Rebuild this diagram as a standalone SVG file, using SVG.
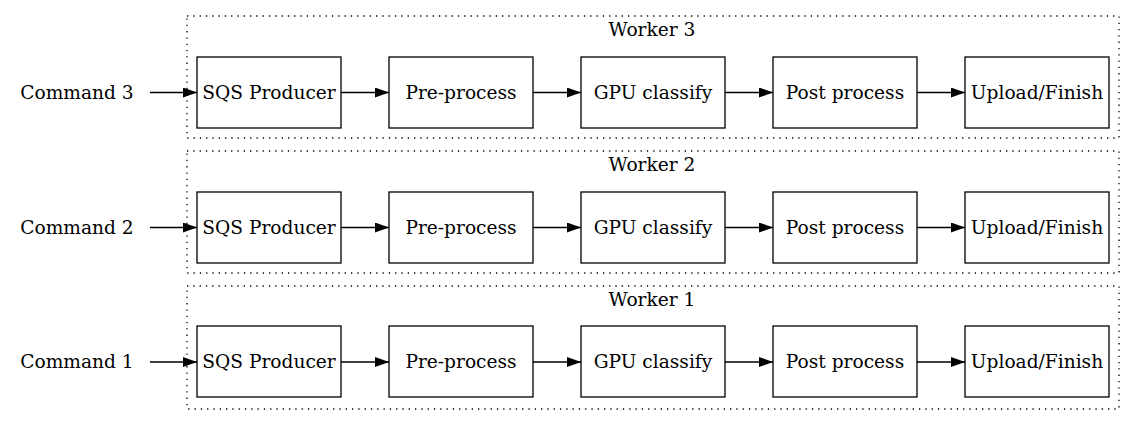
<svg xmlns="http://www.w3.org/2000/svg" width="1136" height="425" viewBox="0 0 1136 425">
<style>
text{font-family:"DejaVu Serif",serif;font-size:18.6px;fill:#000;text-anchor:middle}
.cl{fill:none;stroke:#000;stroke-width:1.3;stroke-dasharray:1.3 5}
.nd{fill:#fff;stroke:#000;stroke-width:1.3}
.e{stroke:#000;stroke-width:1.3;fill:none;marker-end:url(#ah)}
</style>
<defs>
<marker id="ah" markerWidth="14" markerHeight="10" refX="14" refY="5" orient="auto" markerUnits="userSpaceOnUse">
<path d="M0,0 L14,5 L0,10 Z" fill="#000"/>
</marker>
</defs>
<rect width="1136" height="425" fill="#fff"/>
<g id="clusters">
<g id="worker3"><rect class="cl" x="187" y="16" width="932" height="122"/><text x="652" y="36">Worker 3</text></g>
<g id="worker2"><rect class="cl" x="187" y="151" width="932" height="122"/><text x="652" y="171">Worker 2</text></g>
<g id="worker1"><rect class="cl" x="187" y="286" width="932" height="123"/><text x="652" y="306">Worker 1</text></g>
</g>
<g id="connectors">
<line class="e" x1="150" y1="92.5" x2="197" y2="92.5"/>
<line class="e" x1="341" y1="92.5" x2="389" y2="92.5"/>
<line class="e" x1="533" y1="92.5" x2="581" y2="92.5"/>
<line class="e" x1="725" y1="92.5" x2="773" y2="92.5"/>
<line class="e" x1="917" y1="92.5" x2="965" y2="92.5"/>
<line class="e" x1="150" y1="227.5" x2="197" y2="227.5"/>
<line class="e" x1="341" y1="227.5" x2="389" y2="227.5"/>
<line class="e" x1="533" y1="227.5" x2="581" y2="227.5"/>
<line class="e" x1="725" y1="227.5" x2="773" y2="227.5"/>
<line class="e" x1="917" y1="227.5" x2="965" y2="227.5"/>
<line class="e" x1="150" y1="362" x2="197" y2="362"/>
<line class="e" x1="341" y1="362" x2="389" y2="362"/>
<line class="e" x1="533" y1="362" x2="581" y2="362"/>
<line class="e" x1="725" y1="362" x2="773" y2="362"/>
<line class="e" x1="917" y1="362" x2="965" y2="362"/>
</g>
<g id="cmd3"><text x="77" y="98.5">Command 3</text></g>
<g id="cmd2"><text x="77" y="233.5">Command 2</text></g>
<g id="cmd1"><text x="77" y="368">Command 1</text></g>
<g id="w3_sqs"><rect class="nd" x="197" y="57" width="144" height="71"/><text x="269" y="98.5">SQS Producer</text></g>
<g id="w3_pre"><rect class="nd" x="389" y="57" width="144" height="71"/><text x="461" y="98.5">Pre-process</text></g>
<g id="w3_gpu"><rect class="nd" x="581" y="57" width="144" height="71"/><text x="653" y="98.5">GPU classify</text></g>
<g id="w3_post"><rect class="nd" x="773" y="57" width="144" height="71"/><text x="845" y="98.5">Post process</text></g>
<g id="w3_up"><rect class="nd" x="965" y="57" width="144" height="71"/><text x="1037" y="98.5">Upload/Finish</text></g>
<g id="w2_sqs"><rect class="nd" x="197" y="192" width="144" height="71"/><text x="269" y="233.5">SQS Producer</text></g>
<g id="w2_pre"><rect class="nd" x="389" y="192" width="144" height="71"/><text x="461" y="233.5">Pre-process</text></g>
<g id="w2_gpu"><rect class="nd" x="581" y="192" width="144" height="71"/><text x="653" y="233.5">GPU classify</text></g>
<g id="w2_post"><rect class="nd" x="773" y="192" width="144" height="71"/><text x="845" y="233.5">Post process</text></g>
<g id="w2_up"><rect class="nd" x="965" y="192" width="144" height="71"/><text x="1037" y="233.5">Upload/Finish</text></g>
<g id="w1_sqs"><rect class="nd" x="197" y="326" width="144" height="71"/><text x="269" y="368">SQS Producer</text></g>
<g id="w1_pre"><rect class="nd" x="389" y="326" width="144" height="71"/><text x="461" y="368">Pre-process</text></g>
<g id="w1_gpu"><rect class="nd" x="581" y="326" width="144" height="71"/><text x="653" y="368">GPU classify</text></g>
<g id="w1_post"><rect class="nd" x="773" y="326" width="144" height="71"/><text x="845" y="368">Post process</text></g>
<g id="w1_up"><rect class="nd" x="965" y="326" width="144" height="71"/><text x="1037" y="368">Upload/Finish</text></g>
</svg>
